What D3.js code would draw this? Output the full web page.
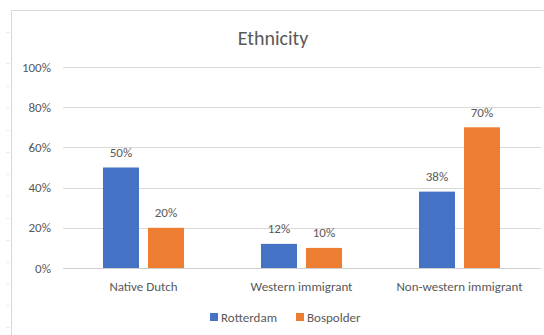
<!DOCTYPE html>
<html>
<head>
<meta charset="utf-8">
<script src="https://cdn.jsdelivr.net/npm/d3@7"></script>
<style>
  html, body { margin: 0; padding: 0; background: #fff; }
  svg { display: block; }
  text { font-family: Carlito, Lato, "Open Sans", "Noto Sans", sans-serif; fill: #595959; }
</style>
</head>
<body>
<svg id="chart" width="544" height="335"></svg>
<script>
const categories = ["Native Dutch", "Western immigrant", "Non-western immigrant"];
const seriesNames = ["Rotterdam", "Bospolder"];
const rotterdam = [50, 12, 38];
const bospolder = [20, 10, 70];
const yTicks = [0, 20, 40, 60, 80, 100];
const colors = ["#4472C4", "#ED7D31"];
const title = "Ethnicity";

const svg = d3.select("#chart");
const W = 544, H = 335;

// spreadsheet cell marks on the left edge
const rowMarks = [32, 63, 86, 108, 130, 152, 174, 196, 218, 240, 262, 284, 305, 327];
svg.selectAll("line.row").data(rowMarks).enter().append("line")
  .attr("x1", 6).attr("x2", 10).attr("y1", d => d + 0.5).attr("y2", d => d + 0.5)
  .attr("stroke", "#ececec").attr("stroke-width", 1);

// chart frame
svg.append("rect").attr("x", 11.5).attr("y", 10.5).attr("width", W).attr("height", H)
  .attr("fill", "#fff").attr("stroke", "#d9d9d9").attr("stroke-width", 1);

const plot = { left: 64.5, right: 538.5, top: 67, bottom: 268 };

const x0 = d3.scaleBand().domain(categories).range([plot.left, plot.right]).paddingInner(0).paddingOuter(0);
const groupW = 81;
const x1 = d3.scaleBand().domain(seriesNames).range([0, groupW]).paddingInner(0.2);
const y = d3.scaleLinear().domain([0, 100]).range([plot.bottom, plot.top]);

// gridlines
svg.append("g").selectAll("line").data(yTicks).enter().append("line")
  .attr("x1", 63).attr("x2", 541)
  .attr("y1", d => Math.round(y(d)) + 0.5).attr("y2", d => Math.round(y(d)) + 0.5)
  .attr("stroke", "#d9d9d9").attr("stroke-width", 1);

// y labels
svg.append("g").selectAll("text").data(yTicks).enter().append("text")
  .attr("x", 51).attr("y", d => y(d)).attr("dy", "0.35em")
  .attr("text-anchor", "end").attr("font-size", 13)
  .text(d => d + "%");

// bars
const groups = svg.append("g").selectAll("g").data(categories).enter().append("g")
  .attr("transform", d => `translate(${x0(d) + (x0.bandwidth() - groupW) / 2},0)`);

const seriesData = [rotterdam, bospolder];
groups.each(function(cat, i) {
  const g = d3.select(this);
  seriesNames.forEach((s, j) => {
    const v = seriesData[j][i];
    g.append("rect")
      .attr("x", x1(s)).attr("width", x1.bandwidth())
      .attr("y", y(v)).attr("height", y(0) - y(v))
      .attr("fill", colors[j]);
    g.append("text")
      .attr("x", x1(s) + x1.bandwidth() / 2).attr("y", y(v) - 15).attr("dy", "0.35em")
      .attr("text-anchor", "middle").attr("font-size", 13)
      .attr("fill", "#404040")
      .text(v + "%");
  });
});

// x axis line
svg.append("line").attr("x1", 63).attr("x2", 541)
  .attr("y1", Math.round(y(0)) + 0.5).attr("y2", Math.round(y(0)) + 0.5)
  .attr("stroke", "#d0d0d0").attr("stroke-width", 1);

// category labels
svg.append("g").selectAll("text").data(categories).enter().append("text")
  .attr("x", d => x0(d) + x0.bandwidth() / 2).attr("y", 286).attr("dy", "0.35em")
  .attr("text-anchor", "middle").attr("font-size", 13)
  .text(d => d);

// title
svg.append("text").attr("x", 273).attr("y", 38).attr("dy", "0.35em")
  .attr("text-anchor", "middle").attr("font-size", 20)
  .text(title);

// legend
const legendX = [210, 296];
const lg = svg.append("g").selectAll("g").data(seriesNames).enter().append("g")
  .attr("transform", (d, i) => `translate(${legendX[i]},313)`);
lg.append("rect").attr("width", 8).attr("height", 8).attr("fill", (d, i) => colors[i]);
lg.append("text").attr("x", 11).attr("y", 4).attr("dy", "0.35em")
  .attr("font-size", 13).text(d => d);
</script>
</body>
</html>
